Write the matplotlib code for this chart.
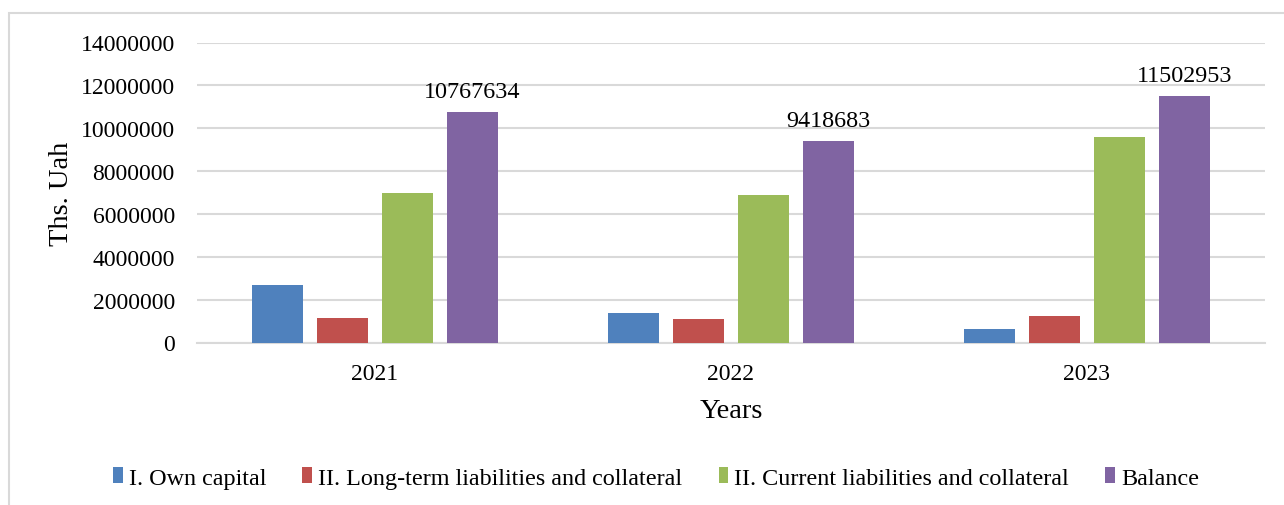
import matplotlib
matplotlib.use("Agg")
import matplotlib.pyplot as plt
from matplotlib.patches import Rectangle
import numpy as np

years = ["2021", "2022", "2023"]
series_names = [
    "I. Own capital",
    "II. Long-term liabilities and collateral",
    "II. Current liabilities and collateral",
    "Balance",
]
own_capital = [2680000, 1400000, 610000]
long_term = [1130000, 1120000, 1245000]
current = [6980000, 6880000, 9610000]
balance = [10767634, 9418683, 11502953]
yticks = [0, 2000000, 4000000, 6000000, 8000000, 10000000, 12000000, 14000000]

colors = ["#4F81BD", "#C0504D", "#9BBB59", "#8064A2"]
series = [own_capital, long_term, current, balance]

plt.rcParams["font.family"] = ["Liberation Serif", "DejaVu Serif"]
FS = 17
FS_TITLE = 20.5
FS_LEG = 17.4

fig = plt.figure(figsize=(12.84, 5.06), dpi=100)
W, H = 1284, 506
ax = fig.add_axes([197 / W, 1 - 343.5 / H, (1265 - 197) / W, (343.5 - 43.5) / H])

x = np.arange(len(years))
width = 0.143
step = 0.1826
for i, (vals, c) in enumerate(zip(series, colors)):
    ax.bar(x + (i - 1.5) * step, vals, width, color=c, label=series_names[i], zorder=3)

# value labels above the Balance bars
for xi, v in zip(x + 1.5 * step, balance):
    ax.annotate(f"{v}", (xi, v), xytext=(0, 7), textcoords="offset points",
                ha="center", va="bottom", fontsize=FS + 0.4, color="#000000")

ax.set_xlim(-0.5, 2.5)
ax.set_ylim(0, 14000000)
ax.set_yticks(yticks)
ax.set_yticklabels([str(t) for t in yticks], fontsize=FS)
ax.set_xticks(x)
ax.set_xticklabels(years, fontsize=FS)
ax.tick_params(axis="both", length=0)
ax.tick_params(axis="x", pad=15)
ax.tick_params(axis="y", pad=16)
ax.grid(axis="y", color="#D9D9D9", linewidth=1.5, zorder=0)
for s in ["top", "right", "left"]:
    ax.spines[s].set_visible(False)
ax.spines["bottom"].set_color("#D9D9D9")
ax.spines["bottom"].set_linewidth(1.5)
ax.set_xlabel("Years", fontsize=FS_TITLE, labelpad=10)
ax.set_ylabel("Ths. Uah", fontsize=FS_TITLE, labelpad=5)

# chart frame
fig.patches.append(Rectangle((9 / W, -0.1), 1.2, 1 - 14 / H + 0.1, transform=fig.transFigure,
                             fill=False, edgecolor="#D9D9D9", linewidth=1.5))

fig.legend(loc="center", bbox_to_anchor=(656 / W, 1 - 479 / H), ncol=4, frameon=False,
           fontsize=FS_LEG, handlelength=0.4, handleheight=0.6, handletextpad=0.25,
           columnspacing=1.5, borderaxespad=0)

fig.savefig("out.png", dpi=100)
